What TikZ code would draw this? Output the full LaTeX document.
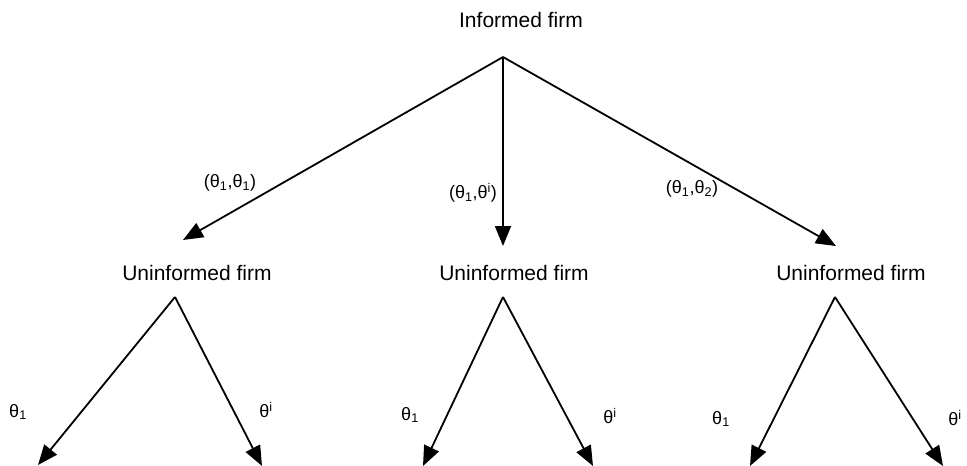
\documentclass[tikz,border=0pt]{standalone}
\usepackage{fontspec}
\setmainfont{Liberation Sans}
\usetikzlibrary{arrows.meta}
\begin{document}
\begin{tikzpicture}[x=1pt,y=-1pt,
  firm/.style={font=\fontsize{21}{25}\selectfont, inner sep=0pt},
  lab/.style={font=\fontsize{18}{21}\selectfont, inner sep=0pt},
  edge/.style={line width=1.8pt, -{Triangle[length=20pt,width=16pt]}}]
\useasboundingbox (0,0) rectangle (967,466);
\node[firm] (inf) at (521,20) {Informed firm};
\coordinate (top) at (503,57);
\node[firm] (u1) at (197,273) {Uninformed firm};
\node[firm] (u2) at (514,273) {Uninformed firm};
\node[firm] (u3) at (851,273) {Uninformed firm};
\coordinate (e1) at (183,240);
\coordinate (e2) at (503,246);
\coordinate (e3) at (836,246);
\draw[edge] (top) -- (e1);
\draw[edge] (top) -- (e2);
\draw[edge] (top) -- (e3);
\node[lab] (l1) at (230,183) {(θ\textsubscript{1},θ\textsubscript{1})};
\node[lab] (l2) at (473,193) {(θ\textsubscript{1},θ\textsuperscript{i})};
\node[lab] (l3) at (692,189) {(θ\textsubscript{1},θ\textsubscript{2})};
\coordinate (a1) at (175,297);
\coordinate (a2) at (503,297);
\coordinate (a3) at (835,297);
\coordinate (b1l) at (38,465);
\coordinate (b1r) at (262,466);
\coordinate (b2l) at (423,466);
\coordinate (b2r) at (593,466);
\coordinate (b3l) at (750,466);
\coordinate (b3r) at (943,466);
\draw[edge] (a1) -- (b1l);
\draw[edge] (a1) -- (b1r);
\draw[edge] (a2) -- (b2l);
\draw[edge] (a2) -- (b2r);
\draw[edge] (a3) -- (b3l);
\draw[edge] (a3) -- (b3r);
\node[lab] (t1) at (18,412) {θ\textsubscript{1}};
\node[lab] (t2) at (266,410) {θ\textsuperscript{i}};
\node[lab] (t3) at (410,415) {θ\textsubscript{1}};
\node[lab] (t4) at (610,416) {θ\textsuperscript{i}};
\node[lab] (t5) at (721,419) {θ\textsubscript{1}};
\node[lab] (t6) at (955,418) {θ\textsuperscript{i}};
\end{tikzpicture}
\end{document}
